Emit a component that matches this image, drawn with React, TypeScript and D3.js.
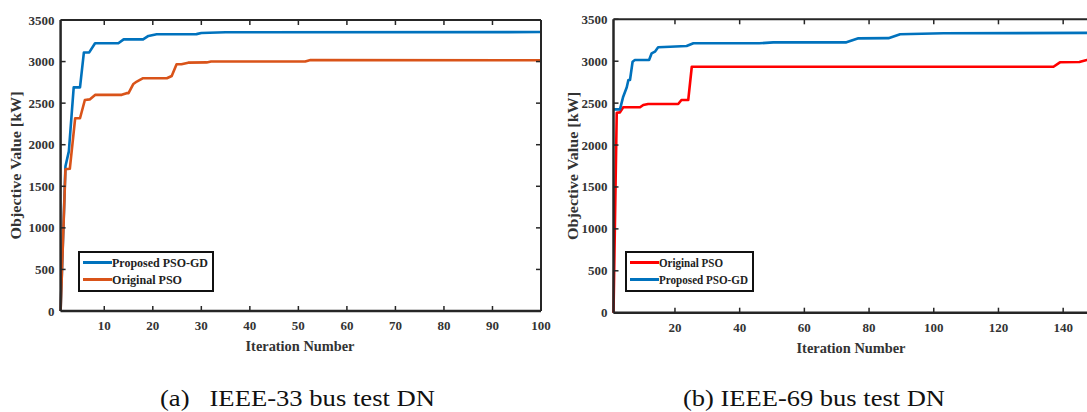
import React from "react";
import * as d3 from "d3";

// ---------- data (iteration, objective value kW) ----------
const ieee33ProposedPSOGD: [number, number][] = [
  [1, 0], [2, 1740], [2.7, 1920], [3.7, 2690], [5, 2690], [5.8, 3110], [6.9, 3110],
  [8.1, 3220], [12.9, 3220], [14, 3267], [18, 3267], [19.1, 3308], [20.8, 3328],
  [29, 3330], [30, 3344], [35, 3352], [100, 3355],
];
const ieee33OriginalPSO: [number, number][] = [
  [1, 0], [2, 1704], [2.9, 1710], [4, 2318], [5, 2318], [6, 2538], [7, 2545],
  [8.1, 2599], [13.6, 2600], [14.6, 2620], [15, 2620], [16, 2731], [16.7, 2760],
  [18, 2800], [22.9, 2800], [23.9, 2827], [24.9, 2968], [25.9, 2968], [27.3, 2987],
  [31.1, 2990], [32, 3000], [51.4, 3000], [52.5, 3018], [100, 3015],
];
const ieee69OriginalPSO: [number, number][] = [
  [1, 0], [2, 2386], [3, 2390], [4, 2450], [9.2, 2450], [10.2, 2478], [11.7, 2490],
  [21, 2490], [22, 2537], [24.1, 2537], [25.2, 2934], [137, 2934], [139, 2987],
  [145, 2990], [147.3, 3014], [150, 3020],
];
const ieee69ProposedPSOGD: [number, number][] = [
  [1, 2426], [3, 2426], [4, 2577], [5.1, 2689], [5.6, 2776], [6.1, 2776], [6.9, 2994],
  [7.6, 3014], [12, 3014], [12.8, 3094], [13.8, 3114], [14.8, 3166], [18.5, 3173],
  [23.6, 3181], [25.7, 3214], [46, 3214], [50.4, 3225], [73, 3225], [76.7, 3273],
  [86, 3275], [89.6, 3321], [103, 3333], [150, 3338],
];

const yTicks = [0, 500, 1000, 1500, 2000, 2500, 3000, 3500];
const xTicks33 = [10, 20, 30, 40, 50, 60, 70, 80, 90, 100];
const xTicks69 = [20, 40, 60, 80, 100, 120, 140];

const captionA = "(a)\u00a0\u00a0 IEEE-33 bus test DN";
const captionB = "(b) IEEE-69 bus test DN";
const yLabel = "Objective Value [kW]";
const xLabel = "Iteration Number";

const BLUE = "#0072BD";
const ORANGE = "#D95319";
const RED = "#FF0000";
const AXIS = "#262626";
const FONT = "Liberation Serif";

type Series = { name: string; color: string; data: [number, number][]; textLen: number };

const tf = (size: number, bold: boolean): React.CSSProperties => ({
  fontFamily: FONT, fontSize: size + "px", fontWeight: bold ? 700 : 400,
});

function Panel(props: {
  x0: number; x1: number; y0: number; y1: number;
  xDomain: [number, number]; xTicks: number[];
  draw: Series[]; legend: Series[];
  legendBox: [number, number, number, number];
  yLabelX: number; xLabelX: number; showRight: boolean;
}) {
  const { x0, x1, y0, y1, xDomain, xTicks, draw, legend, legendBox, yLabelX, xLabelX, showRight } = props;
  const x = d3.scaleLinear().domain(xDomain).range([x0, x1]);
  const y = d3.scaleLinear().domain([0, 3500]).range([y0, y1]);
  const line = d3.line<[number, number]>().x((d) => x(d[0])).y((d) => y(d[1]));
  const right = Math.min(x1, 1100);
  const [lx, ly, lw, lh] = legendBox;
  return (
    <g>
      {draw.map((s) => (
        <path key={s.name} d={line(s.data) || ""} fill="none" stroke={s.color} strokeWidth={2.6} strokeLinejoin="round" />
      ))}
      <line x1={x0} x2={right} y1={y1} y2={y1} stroke={AXIS} strokeWidth={2} />
      <line x1={x0} x2={right} y1={y0} y2={y0} stroke={AXIS} strokeWidth={2.5} />
      <line x1={x0} x2={x0} y1={y0} y2={y1} stroke={AXIS} strokeWidth={2.5} />
      {showRight && <line x1={x1} x2={x1} y1={y0} y2={y1} stroke={AXIS} strokeWidth={2} />}
      {xTicks.map((t) => (
        <g key={"xt" + t}>
          <line x1={x(t)} x2={x(t)} y1={y0} y2={y0 - 5} stroke={AXIS} strokeWidth={1.5} />
          <line x1={x(t)} x2={x(t)} y1={y1} y2={y1 + 5} stroke={AXIS} strokeWidth={1.5} />
          <text x={x(t)} y={y0 + 19} textAnchor="middle" style={tf(13, true)} fill="#333">{t}</text>
        </g>
      ))}
      {yTicks.map((t) => (
        <g key={"yt" + t}>
          <line x1={x0} x2={x0 + 5} y1={y(t)} y2={y(t)} stroke={AXIS} strokeWidth={1.5} />
          {showRight && <line x1={x1} x2={x1 - 5} y1={y(t)} y2={y(t)} stroke={AXIS} strokeWidth={1.5} />}
          <text x={x0 - 6} y={y(t) + 4.5} textAnchor="end" style={tf(13, true)} fill="#333">{t}</text>
        </g>
      ))}
      <text x={xLabelX} y={y0 + 40} textAnchor="middle" style={tf(14, true)} fill="#333"
        textLength={109} lengthAdjust="spacingAndGlyphs">{xLabel}</text>
      <text transform={`translate(${yLabelX}, ${(y0 + y1) / 2}) rotate(-90)`} textAnchor="middle" style={tf(15, true)} fill="#333"
        textLength={148} lengthAdjust="spacingAndGlyphs">{yLabel}</text>
      <rect x={lx} y={ly} width={lw} height={lh} fill="#fff" stroke="#111" strokeWidth={2} />
      {legend.map((s, i) => {
        const yy = ly + 10.5 + i * 17;
        return (
          <g key={"lg" + s.name}>
            <line x1={lx + 4} x2={lx + 33} y1={yy} y2={yy} stroke={s.color} strokeWidth={3} />
            <text x={lx + 33} y={yy + 4.5} style={tf(13, true)} fill="#222"
              textLength={s.textLen} lengthAdjust="spacingAndGlyphs">{s.name}</text>
          </g>
        );
      })}
    </g>
  );
}

export default function App() {
  const l33Blue: Series = { name: "Proposed PSO-GD", color: BLUE, data: ieee33ProposedPSOGD, textLen: 96 };
  const l33Orange: Series = { name: "Original PSO", color: ORANGE, data: ieee33OriginalPSO, textLen: 70 };
  const l69Red: Series = { name: "Original PSO", color: RED, data: ieee69OriginalPSO, textLen: 64 };
  const l69Blue: Series = { name: "Proposed PSO-GD", color: BLUE, data: ieee69ProposedPSOGD, textLen: 89 };
  return (
    <svg width={1087} height={412} style={{ position: "absolute", left: 0, top: 0, display: "block", background: "#fff" }}>
      <Panel x0={60.6} x1={541} y0={311} y1={20} xDomain={[1, 100]} xTicks={xTicks33}
        draw={[l33Blue, l33Orange]} legend={[l33Blue, l33Orange]}
        legendBox={[79, 252, 134, 39]} yLabelX={21} xLabelX={300} showRight={true} />
      <Panel x0={613.5} x1={613.5 + 149 * 3.235} y0={312.7} y1={19.3} xDomain={[1, 150]} xTicks={xTicks69}
        draw={[l69Red, l69Blue]} legend={[l69Red, l69Blue]}
        legendBox={[626, 252, 127, 39]} yLabelX={578} xLabelX={851} showRight={false} />
      <text x={160} y={406} style={tf(24, false)} fill="#111" textLength={275} lengthAdjust="spacingAndGlyphs">{captionA}</text>
      <text x={683} y={406} style={tf(24, false)} fill="#111" textLength={262} lengthAdjust="spacingAndGlyphs">{captionB}</text>
    </svg>
  );
}
